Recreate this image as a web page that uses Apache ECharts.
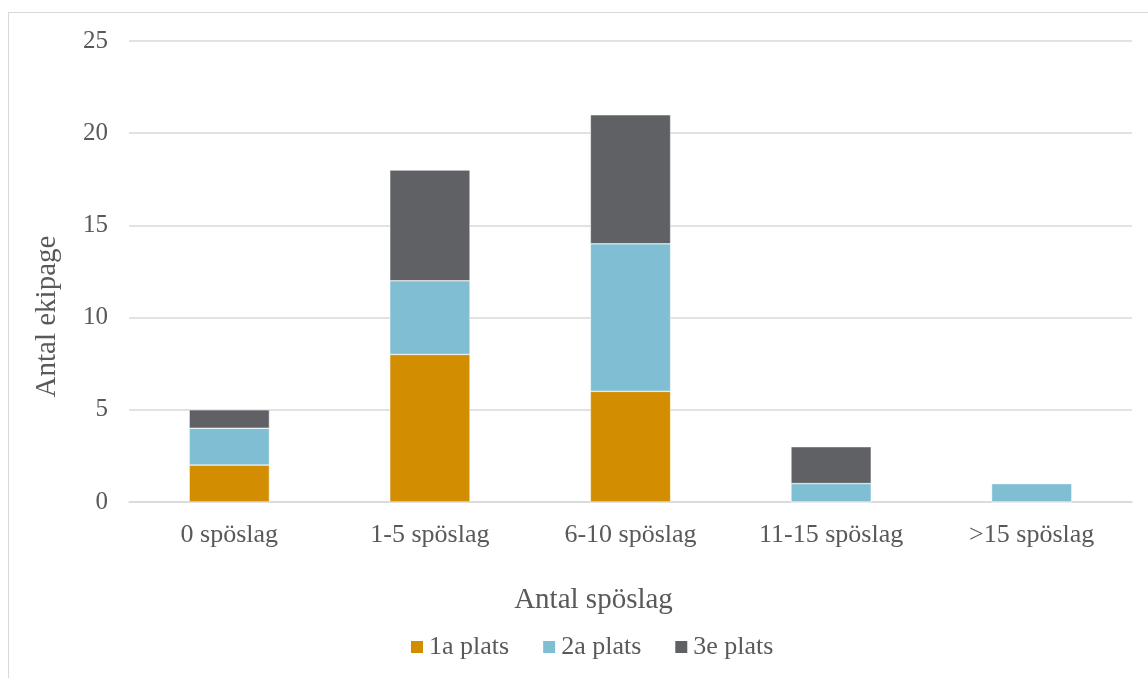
<!DOCTYPE html>
<html lang="sv">
<head>
    <meta charset="UTF-8">
    <script src="https://cdn.jsdelivr.net/npm/echarts@6/dist/echarts.min.js"></script>
    <title>Antal ekipage per antal spöslag</title>
    <style>
        html, body { margin: 0; padding: 0; background: #fff; overflow: hidden; }
        #frame { position: absolute; left: 8px; top: 12px; width: 1300px; height: 800px; border: 1.5px solid #d9d9d9; box-sizing: border-box; }
        #main { position: absolute; left: 0; top: 0; width: 1148px; height: 678px; }
    </style>
</head>
<body>
    <div id="frame"></div>
    <div id="main"></div>
    <script type="text/javascript">
        var categories = ['0 spöslag', '1-5 spöslag', '6-10 spöslag', '11-15 spöslag', '>15 spöslag'];
        var forsta = [2, 8, 6, 0, 0];   // 1a plats
        var andra = [2, 4, 8, 1, 1];    // 2a plats
        var tredje = [1, 6, 7, 2, 0];   // 3e plats

        var font = 'Liberation Serif';
        var txt = '#595959';
        var chart = echarts.init(document.getElementById('main'));

        function stackSeries(name, data, color) {
            return {
                name: name,
                type: 'bar',
                stack: 'total',
                barWidth: '40%',
                data: data,
                itemStyle: { color: color, borderColor: '#fff', borderWidth: 0.5 }
            };
        }

        var option = {
            backgroundColor: 'transparent',
            animation: false,
            grid: { left: 129, right: 16, top: 41, bottom: 176 },
            legend: {
                top: 629,
                left: 404,
                itemWidth: 14,
                itemHeight: 14,
                itemGap: 32,
                icon: 'rect',
                textStyle: { fontFamily: font, fontSize: 26, color: txt }
            },
            xAxis: {
                type: 'category',
                data: categories,
                name: 'Antal spöslag',
                nameLocation: 'middle',
                nameGap: 84,
                nameTextStyle: { fontFamily: font, fontSize: 29, color: txt, padding: [0, 74, 0, 0] },
                axisLine: { lineStyle: { color: '#d9d9d9', width: 1.5 } },
                axisTick: { show: false },
                axisLabel: { margin: 20, fontFamily: font, fontSize: 26, color: txt }
            },
            yAxis: {
                type: 'value',
                min: 0,
                max: 25,
                interval: 5,
                name: 'Antal ekipage',
                nameLocation: 'middle',
                nameGap: 67,
                // text sits a bit below the plot's middle in the original
                nameTextStyle: { fontFamily: font, fontSize: 29, color: txt, padding: [0, 90, 0, 0] },
                axisLine: { show: false },
                axisTick: { show: false },
                axisLabel: { margin: 21, fontFamily: font, fontSize: 25, color: txt },
                splitLine: { lineStyle: { color: '#d9d9d9', width: 1.5 } }
            },
            series: [
                stackSeries('1a plats', forsta, '#d38d00'),
                stackSeries('2a plats', andra, '#80bed4'),
                stackSeries('3e plats', tredje, '#606165')
            ]
        };
        chart.setOption(option);
    </script>
</body>
</html>
